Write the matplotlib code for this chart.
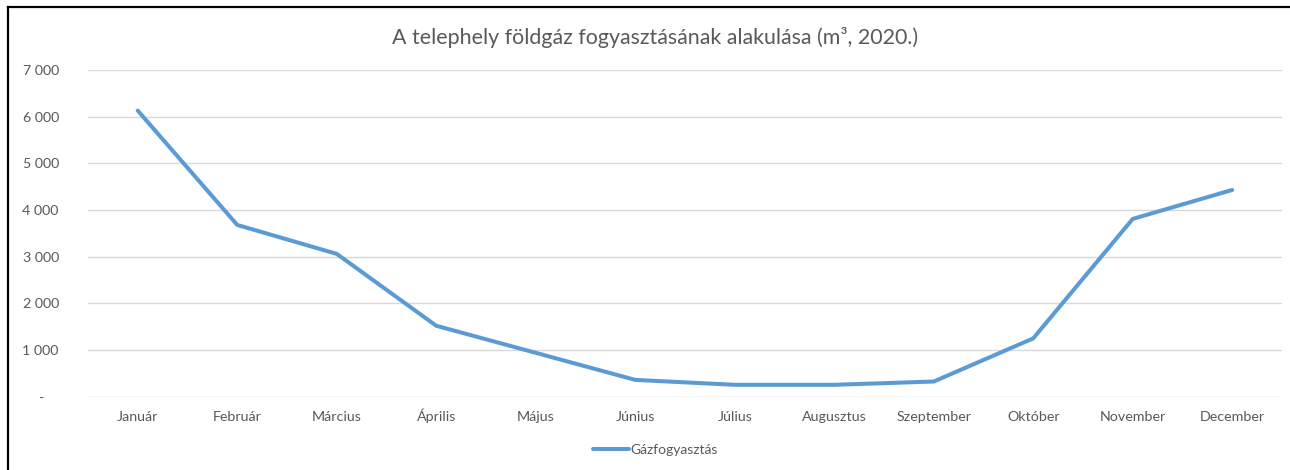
import matplotlib
matplotlib.use("Agg")
import matplotlib.pyplot as plt
from matplotlib.lines import Line2D

months = ["Január", "Február", "Március", "Április", "Május", "Június",
          "Július", "Augusztus", "Szeptember", "Október", "November", "December"]
consumption = [6130, 3680, 3060, 1520, 940, 360, 255, 255, 325, 1250, 3810, 4430]
yticks = [0, 1000, 2000, 3000, 4000, 5000, 6000, 7000]
ytick_labels = ["-    ", "1 000", "2 000", "3 000", "4 000", "5 000", "6 000", "7 000"]
title = "A telephely földgáz fogyasztásának alakulása (m³, 2020.)"
series_name = "Gázfogyasztás"

FONT = ["Lato", "DejaVu Sans"]
GRAY = "#595959"
W, H = 1290, 470

fig = plt.figure(figsize=(W / 100, H / 100), dpi=100)
ax = fig.add_axes([88 / W, 1 - 396.7 / H, (1282 - 88) / W, (396.7 - 70) / H])

x = list(range(len(months)))
ax.plot(x, consumption, color="#5B9BD5", lw=2.9, solid_capstyle="round",
        solid_joinstyle="round", label=series_name, zorder=3)

ax.set_xlim(-0.5, len(months) - 0.5)
ax.set_ylim(0, 7000)
ax.set_yticks(yticks)
ax.set_yticklabels(ytick_labels, fontsize=10.3, color=GRAY, family=FONT)
ax.set_xticks(x)
ax.set_xticklabels(months, fontsize=10.3, color=GRAY, family=FONT, va="baseline")
ax.tick_params(axis="both", length=0)
ax.tick_params(axis="y", pad=21)
ax.tick_params(axis="x", pad=17.5)
ax.grid(axis="y", color="#D9D9D9", lw=1)
ax.set_axisbelow(True)
for s in ax.spines.values():
    s.set_visible(False)

fig.text(655 / W, 1 - 38 / H, title, ha="center", va="center",
         fontsize=15.4, color=GRAY, family=FONT)

handle = Line2D([0], [0], color="#5B9BD5", lw=2.9, solid_capstyle="round")
fig.legend([handle], [series_name], loc="center", bbox_to_anchor=(655 / W, 1 - 450 / H),
           frameon=False, prop={"family": FONT, "size": 10}, labelcolor=GRAY,
           handlelength=2.6, handletextpad=0.1)

# outer border (left and top)
fig.add_artist(Line2D([7.5 / W, 7.5 / W], [0, 1 - 6.5 / H], color="black", lw=1.6,
                      transform=fig.transFigure))
fig.add_artist(Line2D([7.5 / W, 1], [1 - 6.5 / H, 1 - 6.5 / H], color="black", lw=1.6,
                      transform=fig.transFigure))

fig.savefig("out.png", dpi=100, facecolor="white")
